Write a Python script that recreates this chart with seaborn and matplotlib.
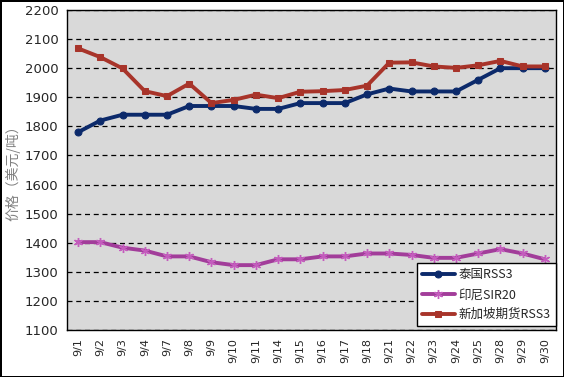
import numpy as np
import pandas as pd
import seaborn as sns
import matplotlib.pyplot as plt
from matplotlib.ticker import FixedLocator

# values
dates = ['9/1', '9/2', '9/3', '9/4', '9/7', '9/8', '9/9', '9/10', '9/11', '9/14', '9/15',
         '9/16', '9/17', '9/18', '9/21', '9/22', '9/23', '9/24', '9/25', '9/28', '9/29', '9/30']
thai_rss3 = [1780, 1820, 1840, 1840, 1840, 1870, 1870, 1870, 1860, 1860, 1880,
             1880, 1880, 1910, 1930, 1920, 1920, 1920, 1960, 2000, 2000, 2000]
indo_sir20 = [1402, 1402, 1383, 1373, 1353, 1353, 1333, 1323, 1323, 1343, 1343,
              1353, 1353, 1363, 1363, 1358, 1348, 1348, 1363, 1378, 1363, 1343]
sgx_rss3 = [2068, 2038, 1999, 1921, 1904, 1947, 1880, 1891, 1909, 1897, 1919,
            1921, 1925, 1940, 2019, 2020, 2006, 2001, 2010, 2025, 2006, 2006]
names = ['泰国RSS3', '印尼SIR20', '新加坡期货RSS3']

sns.set_style('white')
plt.rcParams['font.family'] = ['Noto Sans CJK SC', 'DejaVu Sans']

fig = plt.figure(figsize=(5.64, 3.77), dpi=100, edgecolor='black', linewidth=2)
ax = fig.add_axes([67 / 564, 1 - 330 / 377, 489 / 564, 320 / 377])
ax.set_facecolor('#d9d9d9')

x = np.arange(len(dates))
sns.lineplot(x=x, y=thai_rss3, ax=ax, color='#0c2a6b', lw=2.8, marker='o', ms=5,
             mec='#0c2a6b', sort=False, label=names[0])
sns.lineplot(x=x, y=indo_sir20, ax=ax, color='#a23d9a', lw=2.8, marker=(6, 2, 0), ms=6.5,
             mec='#c45cbd', mew=1, sort=False, label=names[1])
sns.lineplot(x=x, y=sgx_rss3, ax=ax, color='#a8342a', lw=2.8, marker='s', ms=5,
             mec='#a8342a', sort=False, label=names[2])

ax.set_xlim(-0.5, len(dates) - 0.5)
ax.set_ylim(1100, 2200)
ax.set_yticks(range(1100, 2201, 100))
ax.set_xticks(x)
ax.set_xticklabels(dates, rotation=90, fontsize=8, family='DejaVu Sans')
ax.xaxis.set_minor_locator(FixedLocator(x[:-1] + 0.5))
ax.tick_params(axis='x', which='major', length=0, pad=6)
ax.tick_params(axis='x', which='minor', length=5, direction='in', width=1, color='black')
ax.tick_params(axis='y', length=4, direction='out', width=1, color='black', labelsize=9.5, pad=2)
for lbl in ax.get_yticklabels():
    lbl.set_family('DejaVu Sans')

ax.yaxis.grid(True, color='black', linestyle=(0, (4, 3)), linewidth=0.9)
ax.xaxis.grid(False)
for s in ax.spines.values():
    s.set_color('black')
    s.set_linewidth(1)

ax.set_xlabel('')
ax.set_ylabel('价格（美元/吨）', color='#808080', fontsize=10, labelpad=3)

leg = ax.legend(loc='lower right', bbox_to_anchor=(0.999, 0.012), fontsize=9, frameon=True,
                fancybox=False, edgecolor='black', framealpha=1, borderpad=0.4,
                handlelength=2.6, handletextpad=0.3, labelspacing=0.55, borderaxespad=0)
leg.get_frame().set_linewidth(1)

plt.savefig('out.png', dpi=100)
